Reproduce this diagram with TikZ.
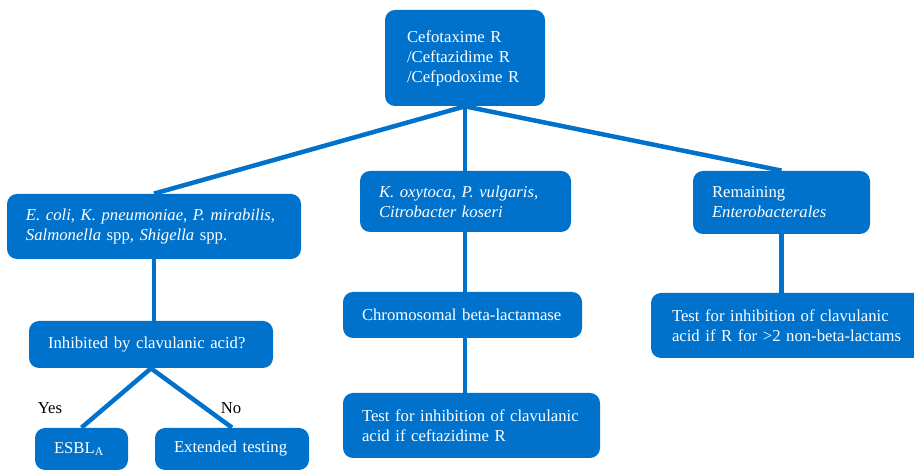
\documentclass[tikz,border=0pt]{standalone}
\usepackage{fontspec}
\setmainfont{Liberation Serif}
\definecolor{boxblue}{RGB}{0,114,204}
\begin{document}
\begin{tikzpicture}[
    box/.style={rectangle,rounded corners=0.2cm,fill=boxblue,text=white,
      inner xsep=0.38cm,inner ysep=0pt,align=left,
      font=\fontsize{9.5}{11.4}\selectfont},
    link/.style={draw=boxblue,line width=0.09cm}
  ]
  \useasboundingbox (0,0) rectangle (18.28,9.42);

  \node[box,inner xsep=0.44cm,text width=2.32cm,minimum height=1.92cm] (drug) at (9.30,8.26)
    {Cefotaxime R\\{}/Ceftazidime R\\{}/Cefpodoxime R\\[-0.08cm]{}};

  \node[box,text width=5.12cm,minimum height=1.30cm] (ecoli) at (3.08,4.89)
    {\textit{E. coli}, \textit{K. pneumoniae}, \textit{P. mirabilis},\\
     \textit{Salmonella} spp, \textit{Shigella} spp.};
  \node[box,text width=3.46cm,minimum height=1.22cm] (oxy) at (9.31,5.39)
    {\textit{K. oxytoca}, \textit{P. vulgaris},\\\textit{Citrobacter koseri}};
  \node[box,text width=2.78cm,minimum height=1.26cm] (rest) at (15.63,5.37)
    {Remaining\\\textit{Enterobacterales}};

  \node[box,text width=4.12cm,minimum height=0.94cm] (clav) at (3.02,2.53)
    {Inhibited by clavulanic acid?};
  \node[box,text width=1.10cm,minimum height=0.84cm] (esbl) at (1.63,0.44)
    {ESBL\textsubscript{A}};
  \node[box,text width=2.32cm,minimum height=0.84cm] (ext) at (4.64,0.44)
    {Extended testing};

  \node[box,text width=4.02cm,minimum height=0.92cm] (chrom) at (9.25,3.12)
    {Chromosomal beta-lactamase};
  \node[box,text width=4.38cm,minimum height=1.30cm] (testm) at (9.43,0.91)
    {Test for inhibition of clavulanic\\acid if ceftazidime R};
  \node[box,inner xsep=0.42cm,text width=4.70cm,minimum height=1.30cm] (testr) at (15.79,2.91)
    {Test for inhibition of clavulanic\\acid if R for >2 non-beta-lactams};

  \node[font=\fontsize{9.5}{11.4}\selectfont] (yes) at (1.00,1.26) {Yes};
  \node[font=\fontsize{9.5}{11.4}\selectfont] (no) at (4.62,1.26) {No};

  % tree
  \draw[link] (drug.south) -- (ecoli.north);
  \draw[link] (drug.south) -- (drug.south |- oxy.north);
  \draw[link] (drug.south) -- (rest.north);
  \draw[link] (ecoli.south) -- (ecoli.south |- clav.north);
  \draw[link] (clav.south) -- (esbl.north);
  \draw[link] (clav.south) -- (ext.north);
  \draw[link] (drug.south |- oxy.south) -- (drug.south |- chrom.north);
  \draw[link] (drug.south |- chrom.south) -- (drug.south |- testm.north);
  \draw[link] (rest.south) -- (rest.south |- testr.north);
\end{tikzpicture}
\end{document}
